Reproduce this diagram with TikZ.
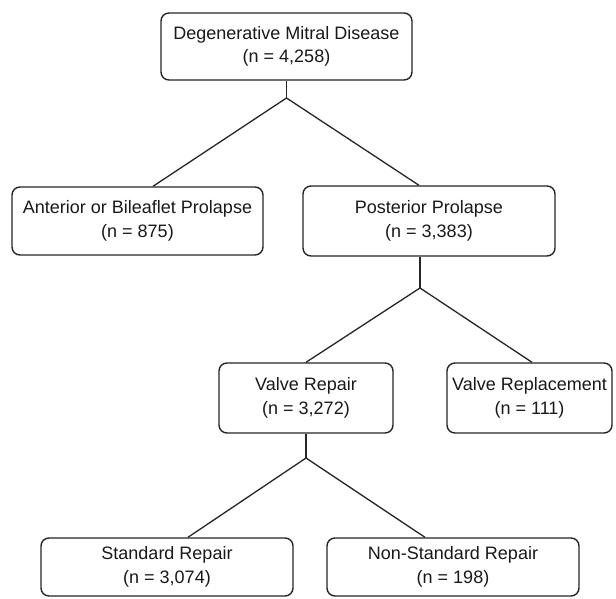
\documentclass[tikz,border=0pt]{standalone}
\usepackage{fontspec}
\setmainfont{Liberation Sans}
\begin{document}
\begin{tikzpicture}[x=1pt,y=-1pt,
  box/.style={draw=black!85, line width=1.4pt, rounded corners=8pt, inner sep=0pt,
    align=center, font=\fontsize{18}{23.5}\selectfont, text=black!90},
  link/.style={draw=black!85, line width=1.3pt}]
\useasboundingbox[fill=white] (0,0) rectangle (616,599);
\node[box, minimum width=251pt, minimum height=67pt] (top) at (286.5,46.5) {Degenerative Mitral Disease\\(n = 4,258)};
\node[box, minimum width=251pt, minimum height=68pt] (left) at (137.5,221) {Anterior or Bileaflet Prolapse\\(n = 875)};
\node[box, minimum width=252pt, minimum height=70pt] (right) at (429,221) {Posterior Prolapse\\(n = 3,383)};
\node[box, minimum width=174pt, minimum height=70pt] (repair) at (306,398) {Valve Repair\\(n = 3,272)};
\node[box, minimum width=165pt, minimum height=70pt] (repl) at (529.5,398) {Valve Replacement\\(n = 111)};
\node[box, minimum width=252pt, minimum height=58pt] (std) at (167,567) {Standard Repair\\(n = 3,074)};
\node[box, minimum width=252pt, minimum height=58pt] (nonstd) at (453,567) {Non-Standard Repair\\(n = 198)};
% junctions
\coordinate (j1) at (286.5,98);
\coordinate (j2) at (420,288);
\coordinate (j3) at (306,458);
% diagonal end points on box tops
\coordinate (e1l) at (153,0);
\coordinate (e1r) at (419,0);
\coordinate (e2l) at (306,0);
\coordinate (e2r) at (532,0);
\coordinate (e3l) at (188,0);
\coordinate (e3r) at (425,0);
\draw[link] (top.south) -- (j1);
\draw[link] (j1) -- (left.north -| e1l);
\draw[link] (j1) -- (right.north -| e1r);
\draw[link] (right.south -| j2) -- (j2);
\draw[link] (j2) -- (repair.north -| e2l);
\draw[link] (j2) -- (repl.north -| e2r);
\draw[link] (repair.south) -- (j3);
\draw[link] (j3) -- (std.north -| e3l);
\draw[link] (j3) -- (nonstd.north -| e3r);
\end{tikzpicture}
\end{document}
